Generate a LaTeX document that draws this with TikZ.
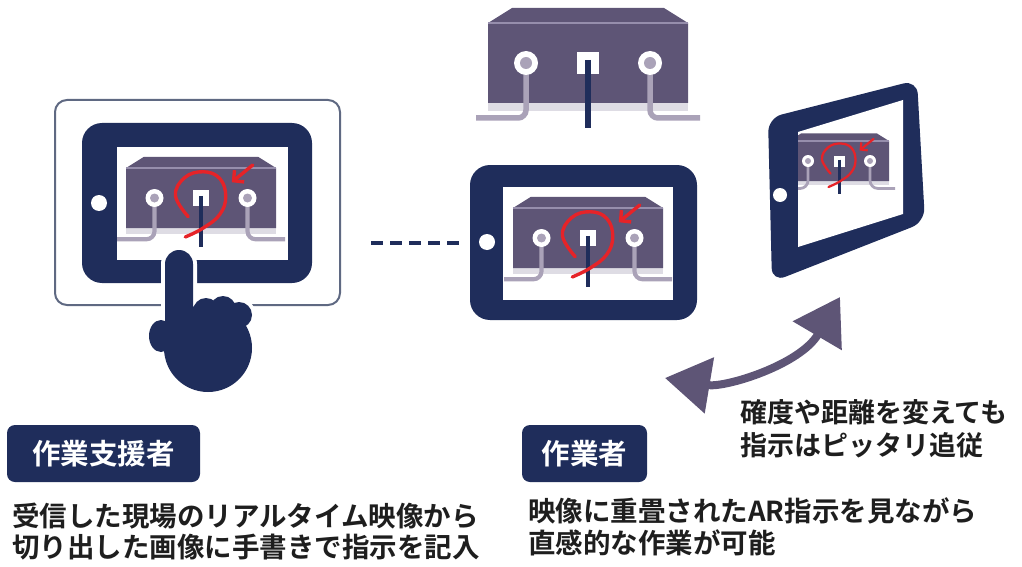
\documentclass[tikz,border=0pt]{standalone}
\usepackage{fontspec}
\setmainfont{Noto Sans CJK JP}[BoldFont={Noto Sans CJK JP Bold}]
\usepackage{tikz}
\usetikzlibrary{arrows.meta,positioning,calc}

\definecolor{navy}{RGB}{31,45,91}
\definecolor{machine}{RGB}{94,85,118}
\definecolor{edgelight}{RGB}{150,142,172}
\definecolor{cablegray}{RGB}{170,162,184}
\definecolor{baseshade}{RGB}{222,220,228}
\definecolor{framegray}{RGB}{95,105,130}
\definecolor{penred}{RGB}{230,35,40}
\definecolor{textgray}{RGB}{30,30,30}

\tikzstyle{frame} = [rectangle, rounded corners=12pt, draw=framegray, line width=2pt, inner sep=0pt]
\tikzstyle{tabletbody} = [rectangle, rounded corners=20pt, fill=navy, inner sep=0pt]
\tikzstyle{screen} = [rectangle, fill=white, inner sep=0pt]
\tikzstyle{homebtn} = [circle, fill=white, minimum size=16pt, inner sep=0pt]
\tikzstyle{rolebox} = [rectangle, rounded corners=8pt, fill=navy, text=white, minimum width=193pt, minimum height=57pt, font=\fontsize{28.5pt}{30pt}\selectfont\bfseries]
\tikzstyle{desc} = [align=left, anchor=west, inner sep=0pt, text=textgray, font=\fontsize{27.5pt}{31pt}\selectfont\bfseries]
\tikzstyle{cable} = [draw=cablegray, rounded corners=8pt]
\tikzstyle{redpen} = [draw=penred, line cap=round, line join=round]
\tikzstyle{dashline} = [draw=navy, line width=4pt, dash pattern=on 12pt off 7pt]
\tikzstyle{swing} = [draw=machine, line width=8pt, {Triangle[length=45pt,width=55pt]}-{Triangle[length=45pt,width=55pt]}]

% box with three sockets, #1 = position, #2/#3 = x/y scale
\newcommand{\drawmachine}[3]{%
  \begin{scope}[shift={#1}, xscale=#2, yscale=#3]
    \fill[baseshade] (-100,38) rectangle (100,48);
    \fill[machine] (-100,-40) -- (-76,-55) -- (76,-55) -- (100,-40) -- (100,40) -- (-100,40) -- cycle;
    \draw[edgelight, line width=#2*2.5pt] (-100,-40) -- (100,-40);
    \draw[cable, line width=#2*5.5pt] (-62,0) -- (-62,55) -- (-112,55);
    \draw[cable, line width=#2*5.5pt] (62,0) -- (62,55) -- (112,55);
    \foreach \px in {-62,62} {
      \fill[white] (\px,0) circle[radius=12];
      \fill[cablegray] (\px,0) circle[radius=6];
    }
    \fill[white] (-11,-11) rectangle (11,11);
    \draw[navy, line width=#2*6pt] (0,-3) -- (0,65);
  \end{scope}}

% handwritten loop and arrow on the screen
\newcommand{\drawmark}[3]{%
  \begin{scope}[shift={#1}, xscale=#2, yscale=#3]
    \draw[redpen, line width=#2*4.5pt] plot[smooth, tension=0.7] coordinates {(-21,52) (3,40) (25,22) (33,-2) (25,-26) (3,-35) (-22,-27) (-34,-3) (-17,25)};
    \draw[redpen, line width=#2*4.5pt, -{Straight Barb[length=0pt 2.2, width=0pt 4.5]}] (69,-44) -- (41,-21);
  \end{scope}}

% pointing hand, #1 = path style
\newcommand{\handshape}[1]{%
  \path[#1, rounded corners=14pt] (165,250) rectangle (193,340);
  \path[#1] (206,311) circle[radius=13];
  \path[#1] (223,309) circle[radius=13];
  \path[#1] (239,315) circle[radius=13];
  \path[#1] (208,348) circle[radius=44];
  \path[#1] (161,336) ellipse[x radius=12, y radius=16];}

\begin{document}
\begin{tikzpicture}[x=1pt, y=-1pt]
\useasboundingbox (0,0) rectangle (1022,567);

% Supporter tablet
\node[frame, minimum width=285pt, minimum height=205pt] (leftframe) at (197.5,202.5) {};
\node[tabletbody, minimum width=230pt, minimum height=160pt] (lefttab) at (197,203) {};
\node[screen, minimum width=171pt, minimum height=113pt] (leftscreen) at (202.5,203.5) {};
\node[homebtn] (lefthome) at (99,203) {};
\drawmachine{(201,198)}{0.75}{0.75}
\drawmark{(201,198)}{0.75}{0.75}
\handshape{draw=white, line width=8pt}
\handshape{fill=navy}

% Real equipment
\drawmachine{(588,63)}{1}{1}

% Worker tablet
\node[tabletbody, minimum width=227pt, minimum height=155pt] (midtab) at (583.5,242.5) {};
\node[screen, minimum width=170pt, minimum height=113pt] (midscreen) at (588,243.5) {};
\node[homebtn] (midhome) at (487,242) {};
\drawmachine{(588,238)}{0.75}{0.75}
\drawmark{(588,238)}{0.75}{0.75}

% Tilted tablet
\fill[navy, rounded corners=14pt] (768,118) -- (917,80) -- (925,222) -- (772,282) -- cycle;
\fill[white] (798,132) -- (903,100) -- (903,214) -- (798,247) -- cycle;
\node[homebtn, minimum size=14pt] (righthome) at (780,195) {};
\begin{scope}
  \clip (798,132) -- (903,100) -- (903,214) -- (798,247) -- cycle;
  \drawmachine{(839,161)}{0.5}{0.5}
  \drawmark{(839,161)}{0.5}{0.5}
\end{scope}

% Links
\draw[dashline, shorten <=30pt, shorten >=10pt] (leftframe.east |- midtab.west) -- (midtab.west);
\coordinate (swingL) at (665,378);
\coordinate (swingR) at (840,297);
\draw[swing] (swingL) .. controls (725,388) and (800,365) .. (swingR);

% Labels
\node[rolebox] (supporter) at (103.5,453.5) {作業支援者};
\node[rolebox, minimum width=125pt] (worker) at (584.5,453.5) {作業者};
\node[desc] (supportnote) at (12,532) {受信した現場のリアルタイム映像から\\切り出した画像に手書きで指示を記入};
\node[desc, font=\fontsize{27.5pt}{32pt}\selectfont\bfseries] (worknote) at (528,527) {映像に重畳されたAR指示を見ながら\\直感的な作業が可能};
\node[desc, font=\fontsize{27pt}{33pt}\selectfont\bfseries] (tracknote) at (740,428.5) {確度や距離を変えても\\指示はピッタリ追従};

\end{tikzpicture}
\end{document}
